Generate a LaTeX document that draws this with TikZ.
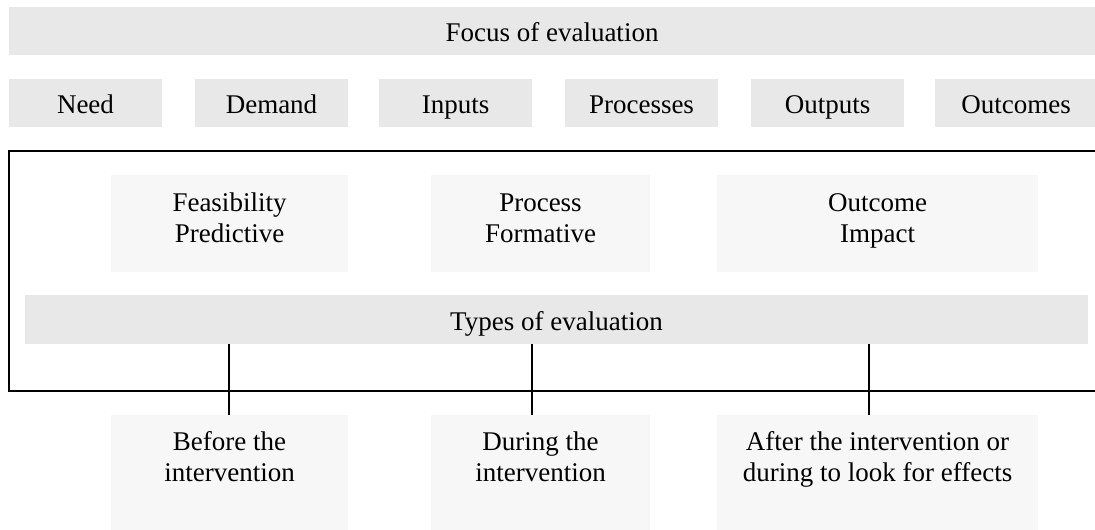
\documentclass[tikz,border=0pt]{standalone}
\usepackage{fontspec}
\setmainfont{Liberation Serif}
\usepackage{xcolor}
\usetikzlibrary{positioning}
\definecolor{bargray}{RGB}{232,232,232}
\definecolor{boxgray}{RGB}{247,247,247}
% struts for the first and the last line of a box
\newcommand{\topstrut}{\rule{0pt}{9.6pt}}
\newcommand{\botstrut}[1]{\rule[-#1]{0pt}{#1}}

\begin{document}
\begin{tikzpicture}[x=0.5pt,y=-0.5pt,
        every node/.style={inner sep=0pt,outer sep=0pt,align=center,
          font=\fontsize{13.5}{15.5}\selectfont},
        bar/.style={rectangle,fill=bargray,minimum height=24pt,text height=12pt,text depth=1.5pt},
        focusbox/.style={bar,minimum width=76.5pt},
        typebox/.style={rectangle,fill=boxgray,minimum height=48.5pt},
        timebox/.style={rectangle,fill=boxgray,minimum height=57.5pt},
        link/.style={line width=1pt}]
        \useasboundingbox (0,0) rectangle (1095,529);
        % focus of evaluation
        \node[bar,minimum width=543pt] (focus) at (552,31) {Focus of evaluation};
        \node[focusbox] (need) at (85.5,103) {Need};
        \node[focusbox] (demand) at (271.5,103) {Demand};
        \node[focusbox] (inputs) at (455.5,103) {Inputs};
        \node[focusbox] (processes) at (641.5,103) {Processes};
        \node[focusbox] (outputs) at (827.5,103) {Outputs};
        \node[focusbox,minimum width=81pt] (outcomes) at (1016,103) {Outcomes};
        % frame round the types
        \draw[link] (9,151) rectangle (1110,391);
        \node[typebox,minimum width=118.5pt] (feas) at (229.5,223.5) {\topstrut Feasibility\\Predictive\botstrut{6.6pt}};
        \node[typebox,minimum width=109.5pt] (proc) at (540.5,223.5) {\topstrut Process\\Formative\botstrut{6.6pt}};
        \node[typebox,minimum width=160.5pt] (outc) at (877.5,223.5) {\topstrut Outcome\\Impact\botstrut{6.6pt}};
        \node[bar,minimum width=531.5pt,minimum height=24.5pt] (types) at (556.5,319.5) {Types of evaluation};
        % timing
        \node[timebox,minimum width=118.5pt] (before) at (229.5,472.5) {\topstrut Before the\\intervention\botstrut{16.6pt}};
        \node[timebox,minimum width=109.5pt] (during) at (540.5,472.5) {\topstrut During the\\intervention\botstrut{16.6pt}};
        \node[timebox,minimum width=160.5pt] (after) at (877.5,472.5) {\topstrut After the intervention or\\during to look for effects\botstrut{16.6pt}};
        \coordinate (b1) at ([xshift=-0.25pt]before.north);
        \coordinate (d1) at ([xshift=-4.25pt]during.north);
        \coordinate (a1) at ([xshift=-4.25pt]after.north);
        \draw[link] (b1) -- (b1 |- types.south);
        \draw[link] (d1) -- (d1 |- types.south);
        \draw[link] (a1) -- (a1 |- types.south);
      \end{tikzpicture}
\end{document}
